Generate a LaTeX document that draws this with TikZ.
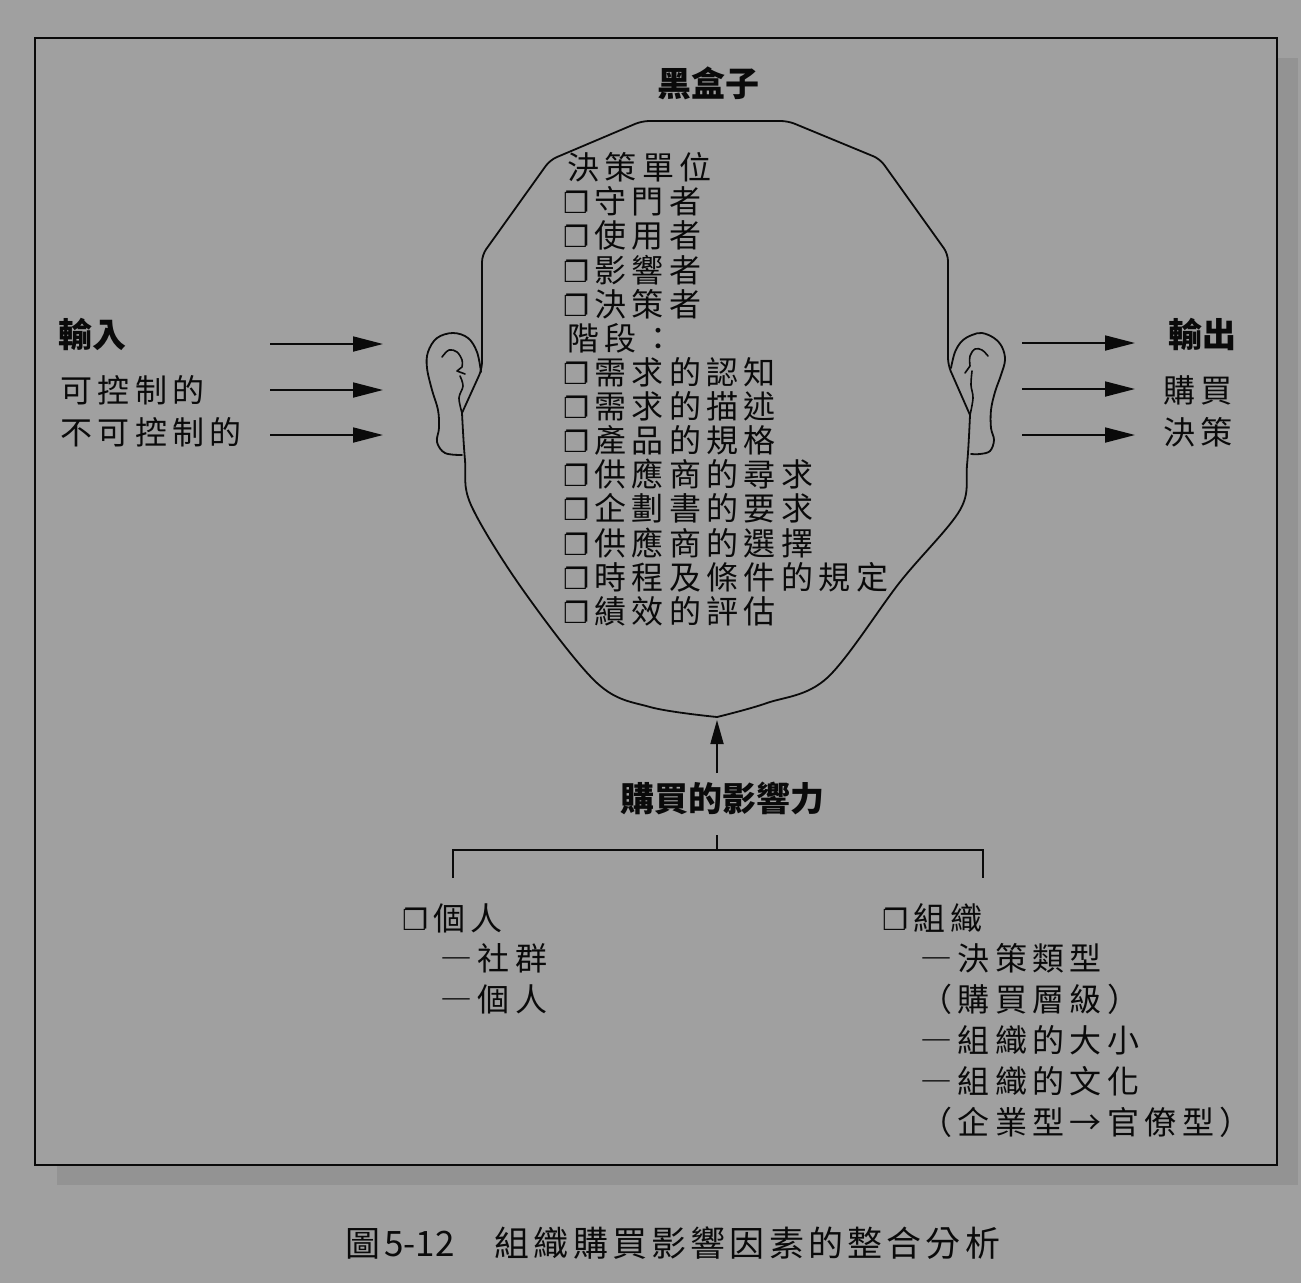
\documentclass[tikz,border=0pt]{standalone}
\usepackage{fontspec}
\setmainfont{Noto Sans CJK TC}
\newfontfamily\mingfont[LetterSpace=17]{Noto Sans CJK TC}
\newfontfamily\headfont{Noto Sans CJK TC}
\newfontfamily\capfont[LetterSpace=12]{Noto Sans CJK TC}
\newfontfamily\dingfont{DejaVu Sans}
\usetikzlibrary{arrows.meta}
\definecolor{paper}{HTML}{A0A0A0}
\definecolor{dropgray}{HTML}{939393}
\definecolor{ink}{HTML}{0A0A0A}
\newcommand\chk{{\dingfont\fontsize{29}{29}\selectfont ❐}\hspace{5pt}}
\begin{document}
\begin{tikzpicture}[x=1pt,y=-1pt,
  lst/.style={anchor=west, inner sep=0pt, text=ink, font=\mingfont\fontsize{32}{34}\selectfont},
  hd/.style={inner sep=0pt, text=ink, font=\headfont\bfseries\fontsize{34}{36}\selectfont},
  arr/.style={draw=ink, line width=1.8pt, -{Triangle[length=30pt,width=15pt]}},
  outline/.style={draw=ink, line width=1.8pt, line join=round, line cap=round},
  thin/.style={draw=ink, line width=1.6pt, line join=round, line cap=round}]
% page, drop shadow and frame
\fill[paper] (0,0) rectangle (1301,1283);
\useasboundingbox (0,0) rectangle (1301,1283);
\fill[dropgray] (57,58) rectangle (1298,1185);
\fill[paper] (35,38) rectangle (1277,1165);
\draw[ink, line width=1.8pt] (35,38) rectangle (1277,1165);

% head outline: crown
\draw[outline, rounded corners=7pt] (462,413) -- (482,369) -- (482,255) -- (550,160) -- (642,121)
  -- (788,121) -- (880,159) -- (948,254) -- (948,365) -- (970,415);
% jaw
\draw[outline] plot[smooth, tension=0.55] coordinates {(462,413) (465,460) (471,505) (523,590) (597,683) (650,707) (717,717)};
\draw[outline] plot[smooth, tension=0.55] coordinates {(970,415) (967,465) (960,510) (900,582) (827,678) (767,703) (717,717)};
% left ear
\draw[outline] plot[smooth, tension=0.6] coordinates {(481,372) (477,352) (468,338) (453,333) (437,338) (428,352) (427,368) (432,390) (438,410) (439,428) (437,442) (445,453) (462,455)};
\draw[thin] plot[smooth, tension=0.6] coordinates {(442,357) (449,350) (457,352) (462,360) (462,367)} -- (457,371) -- (465,374);
\draw[thin] plot[smooth, tension=0.6] coordinates {(460,376) (463,386) (459,398) (462,413)};
% right ear
\draw[outline] plot[smooth, tension=0.6] coordinates {(951,368) (955,352) (962,341) (972,335) (982,333) (994,338) (1002,347) (1005,360) (1001,375) (995,392) (991,410) (991,428) (994,440) (990,451) (980,454) (971,454)};
\draw[thin] plot[smooth, tension=0.6] coordinates {(988,356) (982,350) (975,349) (970,356) (970,366)} -- (965,373);
\draw[thin] plot[smooth, tension=0.6] coordinates {(972,371) (971,385) (973,398) (970,415)};

% title
\node[hd] (title) at (708,83) {黑盒子};

% contents of the head
\node[lst] (unit) at (567,167) {決策單位};
\node[lst] (u1) at (563,201) {\chk 守門者};
\node[lst] (u2) at (563,235) {\chk 使用者};
\node[lst] (u3) at (563,270) {\chk 影響者};
\node[lst] (u4) at (563,304) {\chk 決策者};
\node[lst] (stage) at (567,338) {階段：};
\node[lst] (s1) at (563,372) {\chk 需求的認知};
\node[lst] (s2) at (563,406) {\chk 需求的描述};
\node[lst] (s3) at (563,440) {\chk 產品的規格};
\node[lst] (s4) at (563,474) {\chk 供應商的尋求};
\node[lst] (s5) at (563,508) {\chk 企劃書的要求};
\node[lst] (s6) at (563,543) {\chk 供應商的選擇};
\node[lst] (s7) at (563,577) {\chk 時程及條件的規定};
\node[lst] (s8) at (563,611) {\chk 績效的評估};

% inputs
\node[hd, anchor=west] (in) at (58,334) {輸入};
\node[lst] (in1) at (60,390) {可控制的};
\node[lst] (in2) at (60,432) {不可控制的};
\coordinate (ia0) at (270,344); \coordinate (ia1) at (383,344);
\coordinate (ib0) at (270,390); \coordinate (ib1) at (383,390);
\coordinate (ic0) at (270,435); \coordinate (ic1) at (383,435);
\draw[arr] (ia0) -- (ia1);
\draw[arr] (ib0) -- (ib1);
\draw[arr] (ic0) -- (ic1);

% outputs
\node[hd, anchor=west] (out) at (1168,334) {輸出};
\node[lst] (out1) at (1163,390) {購買};
\node[lst] (out2) at (1163,432) {決策};
\coordinate (oa0) at (1022,343); \coordinate (oa1) at (1135,343);
\coordinate (ob0) at (1022,389); \coordinate (ob1) at (1135,389);
\coordinate (oc0) at (1022,435); \coordinate (oc1) at (1135,435);
\draw[arr] (oa0) -- (oa1);
\draw[arr] (ob0) -- (ob1);
\draw[arr] (oc0) -- (oc1);

% buying influences
\node[hd] (infl) at (722,798) {購買的影響力};
\coordinate (chin) at (717,720);
\coordinate (up) at (717,773);
\draw[draw=ink, line width=1.8pt, -{Triangle[length=24pt,width=13pt]}] (up) -- (chin);
\coordinate (tk0) at (717,835);
\coordinate (tk1) at (717,850);
\coordinate (bl) at (453,878);
\coordinate (br) at (983,878);
\draw[outline, line cap=butt] (tk0) -- (tk1);
\draw[outline, line cap=butt, line join=miter] (bl) -- (bl |- tk1) -- (br |- tk1) -- (br);

\node[lst] (pers) at (402,918) {\chk 個人};
\node[lst] (p1) at (440,958) {―社群};
\node[lst] (p2) at (440,999) {―個人};

\node[lst] (org) at (882,918) {\chk 組織};
\node[lst] (o1) at (920,958) {―決策類型};
\node[lst] (o2) at (920,999) {（購買層級）};
\node[lst] (o3) at (920,1040) {―組織的大小};
\node[lst] (o4) at (920,1081) {―組織的文化};
\node[lst] (o5) at (920,1122) {（企業型→官僚型）};

% caption
\node[anchor=west, inner sep=0pt, text=ink] (cap) at (345,1243)
  {\headfont\fontsize{35}{36}\selectfont 圖\hspace{4pt}5-12\hspace{40pt}{\capfont 組織購買影響因素的整合分析}};
\end{tikzpicture}
\end{document}
